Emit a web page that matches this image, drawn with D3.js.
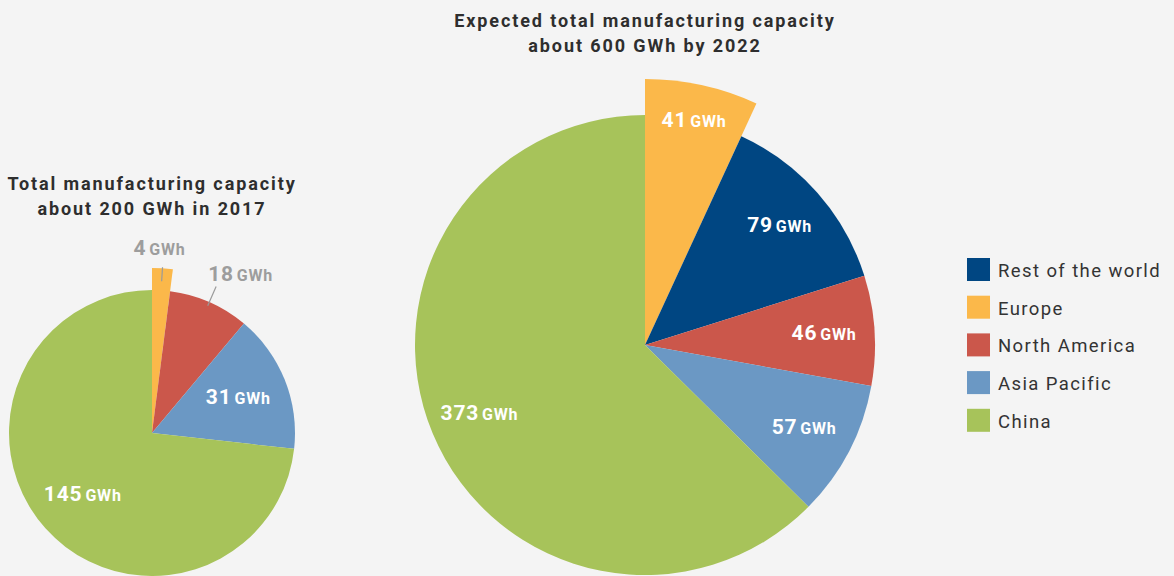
<!DOCTYPE html>
<html>
<head>
<meta charset="utf-8">
<script src="https://cdn.jsdelivr.net/npm/d3@7"></script>
<style>
  body { margin: 0; background: #f4f4f4; }
  svg { display: block; font-family: Roboto, "DejaVu Sans", sans-serif; }
</style>
</head>
<body>
<div id="container"></div>
<script>
// legend order
const regions = ["Rest of the world", "Europe", "North America", "Asia Pacific", "China"];
const regionColors = ["#004682", "#fbb84a", "#cb574b", "#6b98c4", "#a7c35a"];
// slice order, clockwise from 12 o'clock
const sliceOrder = ["Europe", "Rest of the world", "North America", "Asia Pacific", "China"];
const cap2017 = [4, 0, 18, 31, 145];
const cap2022 = [41, 79, 46, 57, 373];
const title2017 = ["Total manufacturing capacity", "about 200 GWh in 2017"];
const title2022 = ["Expected total manufacturing capacity", "about 600 GWh by 2022"];

const WIDTH = 1174, HEIGHT = 576;
const color = d3.scaleOrdinal().domain(regions).range(regionColors);

const svg = d3.select("#container").append("svg")
  .attr("width", WIDTH).attr("height", HEIGHT);

svg.append("rect").attr("width", WIDTH).attr("height", HEIGHT).attr("fill", "#f4f4f4");

const pie = d3.pie().sort(null).value(d => d.value);

function addLabel(sel, value) {
  sel.attr("font-weight", "bold").attr("letter-spacing", 0.8);
  sel.append("tspan").attr("font-size", 21).text(value);
  sel.append("tspan").attr("font-size", 16).attr("dx", 3).text("GWh");
}

function drawPie(values, cx, cy, r, rExplode, labelK, title, titleY, outsideLabels) {
  const data = sliceOrder.map((name, i) => ({ name: name, value: values[i] }));
  const arcs = pie(data).filter(d => d.data.value > 0);
  const g = svg.append("g").attr("transform", `translate(${cx},${cy})`);

  const arc = d3.arc().innerRadius(0)
    .outerRadius(d => d.data.name == "Europe" ? rExplode : r);

  g.selectAll("path")
    .data(arcs)
    .enter()
    .append("path")
    .attr("d", arc)
    .attr("fill", d => color(d.data.name));

  const mid = d => (d.startAngle + d.endAngle) / 2;

  arcs.forEach(d => {
    const a = mid(d);
    if (outsideLabels && outsideLabels[d.data.name]) {
      const o = outsideLabels[d.data.name];
      const p1 = [Math.sin(a) * o.r0, -Math.cos(a) * o.r0];
      const p2 = [Math.sin(a) * o.r1, -Math.cos(a) * o.r1];
      g.append("line")
        .attr("x1", p1[0]).attr("y1", p1[1])
        .attr("x2", p2[0]).attr("y2", p2[1])
        .attr("stroke", "#9a9a9a").attr("stroke-width", 1.2);
      const t = g.append("text")
        .attr("x", p2[0] + o.dx).attr("y", p2[1] + o.dy)
        .attr("text-anchor", o.anchor)
        .attr("fill", "#9d9d9d");
      addLabel(t, d.data.value);
      return;
    }
    const lr = d.data.name == "Europe" ? labelK.europe : labelK.k * r;
    const pos = [Math.sin(a) * lr, -Math.cos(a) * lr];
    const t = g.append("text")
      .attr("x", pos[0]).attr("y", pos[1] + 6)
      .attr("text-anchor", "middle")
      .attr("fill", "#ffffff");
    addLabel(t, d.data.value);
  });

  svg.append("text")
    .attr("x", cx).attr("y", titleY)
    .attr("text-anchor", "middle")
    .attr("font-size", 18)
    .attr("font-weight", "bold")
    .attr("letter-spacing", 1.9)
    .attr("fill", "#2e2e2e")
    .selectAll("tspan")
    .data(title)
    .enter()
    .append("tspan")
    .attr("x", cx)
    .attr("dy", (d, i) => i == 0 ? 0 : 24.5)
    .text(d => d);
}

drawPie(cap2017, 152, 433, 143, 165, { k: 0.65, europe: 100 }, title2017, 190, {
  "Europe": { r0: 152, r1: 166, dx: -3, dy: -12, anchor: "middle" },
  "North America": { r0: 139, r1: 160, dx: -8, dy: -5, anchor: "start" }
});

drawPie(cap2022, 645, 345, 230, 266, { k: 0.78, europe: 229 }, title2022, 27, null);

// legend
const legend = svg.append("g").attr("transform", "translate(967,258)");
const item = legend.selectAll("g")
  .data(regions)
  .enter()
  .append("g")
  .attr("transform", (d, i) => `translate(0,${i * 37.7})`);
item.append("rect")
  .attr("width", 23).attr("height", 23)
  .attr("fill", d => color(d));
item.append("text")
  .attr("x", 31).attr("y", 19)
  .attr("font-size", 18.5)
  .attr("letter-spacing", 1.4)
  .attr("fill", "#333333")
  .text(d => d);
</script>
</body>
</html>
